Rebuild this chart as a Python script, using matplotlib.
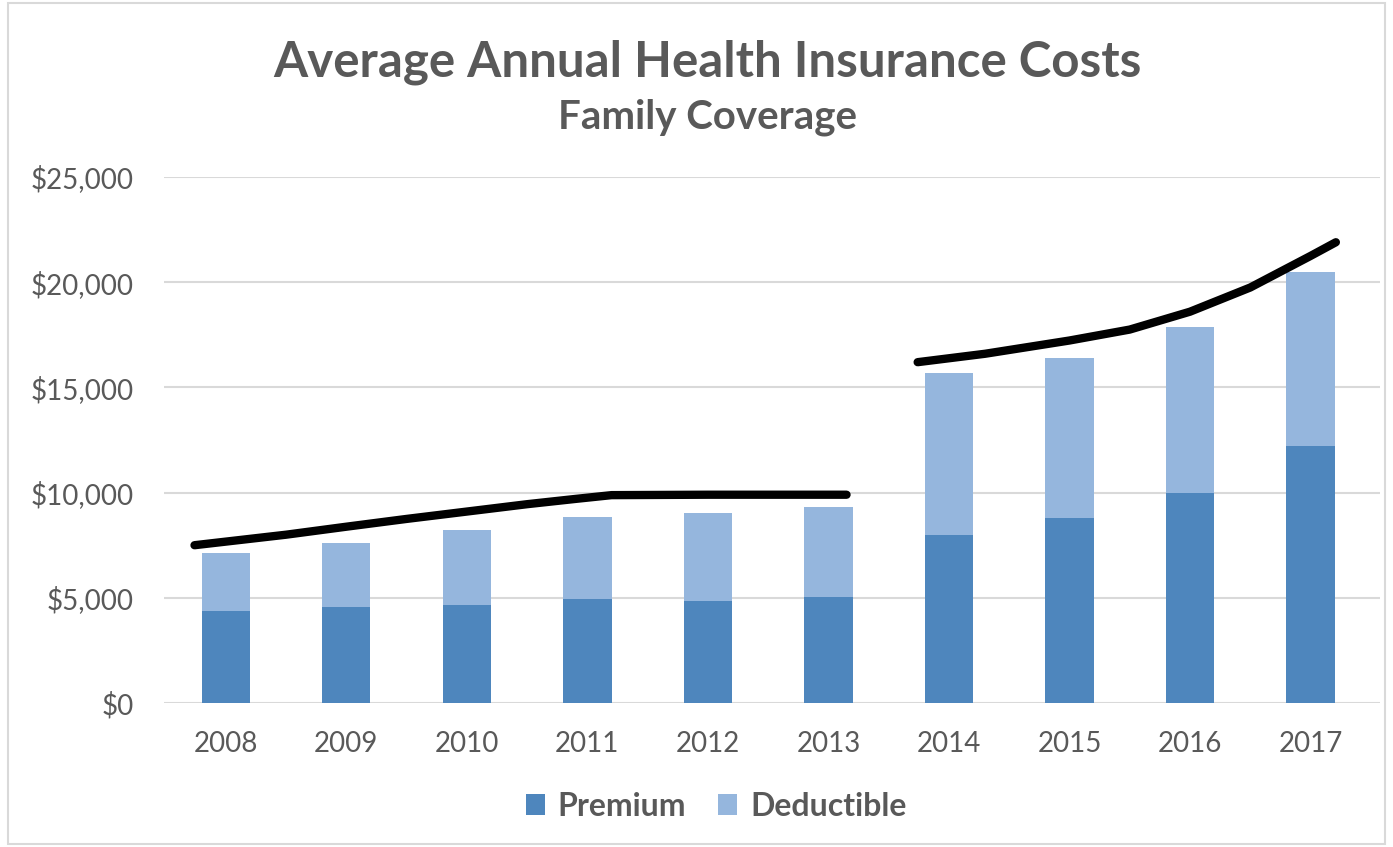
import matplotlib.pyplot as plt
from matplotlib.patches import Rectangle

years = ['2008', '2009', '2010', '2011', '2012', '2013', '2014', '2015', '2016', '2017']
premium = [4350, 4550, 4660, 4940, 4830, 5040, 7990, 8770, 10000, 12200]
deductible = [2780, 3070, 3550, 3880, 4180, 4260, 7700, 7630, 7860, 8300]

# hand drawn trend strokes (category position, value)
trend1_x = [-0.26, 0.5, 1, 1.5, 2, 2.5, 2.9, 3.2, 4, 5.15]
trend1_y = [7500, 8000, 8380, 8750, 9100, 9450, 9700, 9880, 9900, 9900]
trend2_x = [5.74, 6.3, 7, 7.5, 8, 8.5, 9, 9.21]
trend2_y = [16200, 16600, 17230, 17750, 18600, 19750, 21250, 21900]

c_prem = '#4e86bd'
c_ded = '#95b6dd'
txt = '#595959'

plt.rcParams['font.family'] = ['Lato', 'DejaVu Sans']

fig = plt.figure(figsize=(13.93, 8.47), dpi=100)
ax = fig.add_axes([0.118, 0.170, 0.873, 0.621])

x = list(range(len(years)))
ax.bar(x, premium, width=0.4, color=c_prem, label='Premium', zorder=2)
ax.bar(x, deductible, width=0.4, bottom=premium, color=c_ded, label='Deductible', zorder=2)

ax.plot(trend1_x, trend1_y, color='black', lw=6, solid_capstyle='round', zorder=3)
ax.plot(trend2_x, trend2_y, color='black', lw=6, solid_capstyle='round', zorder=3)

ax.set_ylim(0, 25000)
ax.set_xlim(-0.51, 9.58)
ax.set_yticks(range(0, 25001, 5000))
ax.set_yticklabels([f'${v:,}' for v in range(0, 25001, 5000)])
ax.set_xticks(x)
ax.set_xticklabels(years)
ax.tick_params(axis='both', length=0, labelsize=20, labelcolor=txt)
ax.tick_params(axis='y', pad=22)
ax.tick_params(axis='x', pad=20)
ax.grid(True, axis='y', color='#d9d9d9', lw=1.5, zorder=0)
for s in ax.spines.values():
    s.set_visible(False)

fig.text(0.508, 0.927, 'Average Annual Health Insurance Costs', ha='center', va='center',
         fontsize=35.5, fontweight='bold', color=txt)
fig.text(0.508, 0.861, 'Family Coverage', ha='center', va='center',
         fontsize=29, fontweight='bold', color=txt)

leg = fig.legend(loc='center', bbox_to_anchor=(0.514, 0.048), ncol=2, frameon=False,
                 prop={'size': 23, 'weight': 'bold'}, handlelength=0.6, handleheight=0.6,
                 handletextpad=0.4, columnspacing=1.0)
for t in leg.get_texts():
    t.set_color(txt)

fig.add_artist(Rectangle((0.006, 0.004), 0.988, 0.992, transform=fig.transFigure,
                         fill=False, edgecolor='#d9d9d9', lw=1.5))

fig.savefig('out.png', dpi=100)
